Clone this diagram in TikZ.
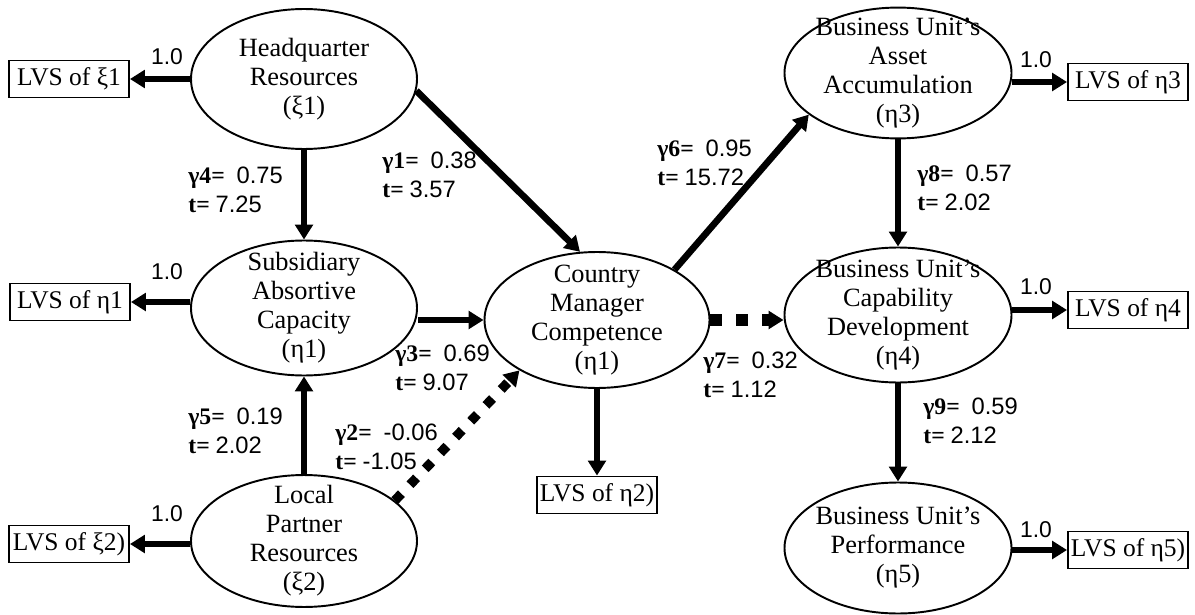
\documentclass[tikz,border=0pt]{standalone}
\usepackage{fontspec}
\setmainfont{Liberation Serif}
\setsansfont{Liberation Sans}
\usetikzlibrary{shapes.geometric,arrows.meta}

\newcommand{\pathcoef}[3]{\textbf{γ#1=}\ \ \textsf{#2}\\\textbf{t=}\ \textsf{#3}}

\tikzstyle{construct} = [draw, ellipse, line width=1.1pt, inner xsep=-2pt,
  inner ysep=-5pt, align=center, font=\fontsize{15}{16.5}\selectfont]
\tikzstyle{indicator} = [draw, rectangle, line width=1.1pt, minimum
  width=2.4cm, minimum height=0.74cm, inner sep=1pt,
  font=\fontsize{14.5}{16}\selectfont]
\tikzstyle{effect} = [line width=3.8pt, -{Triangle[length=8.5pt,width=10pt]}]
\tikzstyle{weakdiag} = [effect, line width=5.4pt, dash pattern=on 5.4pt off 7.1pt]
\tikzstyle{weakhoriz} = [effect, line width=6.8pt, dash pattern=on 6.8pt off 8pt]
\tikzstyle{coef} = [anchor=west, align=left, inner sep=0pt,
  font=\fontsize{13.5}{16.5}\selectfont]
\tikzstyle{loading} = [inner sep=0pt, font=\sffamily\fontsize{13}{14}\selectfont]

\begin{document}
\begin{tikzpicture}
        \useasboundingbox (0,0) rectangle (23.9,-12.3);

        \node [construct, minimum width=4.52cm, minimum height=2.80cm] (hq)  at ( 6.08, -1.58) {Headquarter\\Resources\\(ξ1)};
        \node [construct, minimum width=4.52cm, minimum height=2.70cm] (sub) at ( 6.08, -6.16) {Subsidiary\\Absortive\\Capacity\\(η1)};
        \node [construct, minimum width=4.52cm, minimum height=2.56cm] (lpr) at ( 6.08,-10.82) {Local\\Partner\\Resources\\(ξ2)};
        \node [construct, minimum width=4.50cm, minimum height=2.72cm] (cmc) at (11.94, -6.40) {Country\\Manager\\Competence\\(η1)};
        \node [construct, minimum width=4.54cm, minimum height=2.54cm] (bua) at (17.96, -1.46) {Business Unit’s\\Asset\\Accumulation\\(η3)};
        \node [construct, minimum width=4.54cm, minimum height=2.70cm] (buc) at (17.96, -6.30) {Business Unit’s\\Capability\\Development\\(η4)};
        \node [construct, minimum width=4.54cm, minimum height=2.62cm] (bup) at (17.96,-10.96) {Business Unit’s\\Performance\\(η5)};

        \node [indicator] (lvsxi1)  at ( 1.38, -1.58) {LVS of ξ1};
        \node [indicator] (lvseta1) at ( 1.40, -6.04) {LVS of η1};
        \node [indicator] (lvsxi2)  at ( 1.38,-10.88) {LVS of ξ2)};
        \node [indicator] (lvseta2) at (11.94, -9.90) {LVS of η2)};
        \node [indicator] (lvseta3) at (22.56, -1.64) {LVS of η3};
        \node [indicator] (lvseta4) at (22.56, -6.20) {LVS of η4};
        \node [indicator] (lvseta5) at (22.56,-11.00) {LVS of η5)};

        \draw[effect] (hq.west) -- (lvsxi1.east);
        \draw[effect] (sub.west |- lvseta1.east) -- (lvseta1.east);
        \draw[effect] (lpr.west |- lvsxi2.east) -- (lvsxi2.east);
        \draw[effect] (cmc.south) -- (lvseta2.north);
        \draw[effect] (bua.east |- lvseta3.west) -- (lvseta3.west);
        \draw[effect] (buc.east |- lvseta4.west) -- (lvseta4.west);
        \draw[effect] (bup.east |- lvseta5.west) -- (lvseta5.west);

        \draw[effect] (hq.south) -- (sub.north);
        \draw[effect] (lpr.north) -- (sub.south);
        \draw[effect] (hq.-6) -- (cmc.104);
        \draw[effect] (sub.east |- cmc.west) -- (cmc.west);
        \draw[weakdiag] (lpr.24) -- (cmc.-147);
        \draw[effect] (cmc.33) -- (bua.-155);
        \draw[weakhoriz] (cmc.east) -- (cmc.east -| buc.west);
        \draw[effect] (bua.south) -- (buc.north);
        \draw[effect] (buc.south) -- (bup.north);

        \node [loading] (w1) at ( 3.34, -1.14) {1.0};
        \node [loading] (w2) at ( 3.34, -5.44) {1.0};
        \node [loading] (w3) at ( 3.34,-10.28) {1.0};
        \node [loading] (w4) at (20.72, -1.20) {1.0};
        \node [loading] (w5) at (20.72, -5.74) {1.0};
        \node [loading] (w6) at (20.72,-10.60) {1.0};

        \node [coef] (g1) at ( 7.64, -3.50) {\pathcoef{1}{0.38}{3.57}};
        \node [coef] (g2) at ( 6.70, -8.94) {\pathcoef{2}{-0.06}{-1.05}};
        \node [coef] (g3) at ( 7.90, -7.36) {\pathcoef{3}{0.69}{9.07}};
        \node [coef] (g4) at ( 3.76, -3.80) {\pathcoef{4}{0.75}{7.25}};
        \node [coef] (g5) at ( 3.76, -8.62) {\pathcoef{5}{0.19}{2.02}};
        \node [coef] (g6) at (13.14, -3.26) {\pathcoef{6}{0.95}{15.72}};
        \node [coef] (g7) at (14.06, -7.50) {\pathcoef{7}{0.32}{1.12}};
        \node [coef] (g8) at (18.34, -3.76) {\pathcoef{8}{0.57}{2.02}};
        \node [coef] (g9) at (18.46, -8.42) {\pathcoef{9}{0.59}{2.12}};
      \end{tikzpicture}
\end{document}
